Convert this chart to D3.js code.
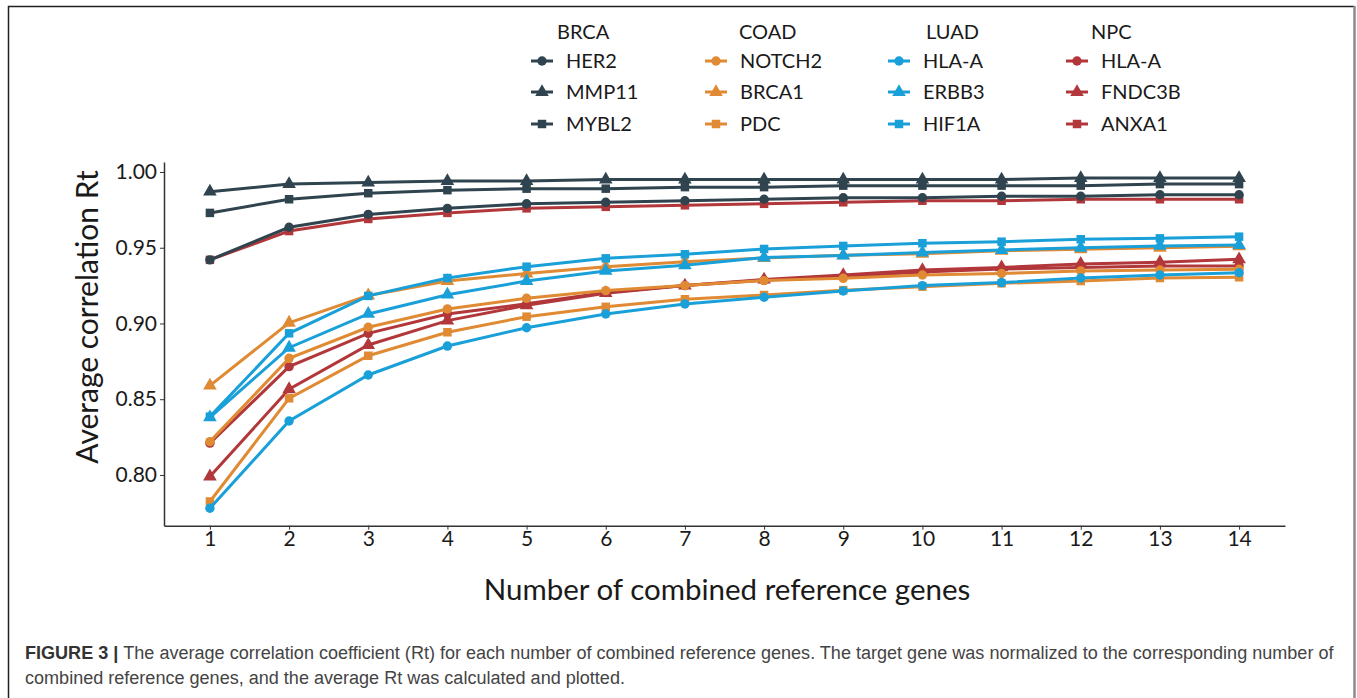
<!DOCTYPE html>
<html>
<head>
<meta charset="utf-8">
<script src="https://cdn.jsdelivr.net/npm/d3@7"></script>
<style>
  body { margin: 0; background: #fff; }
  svg { display: block; }
</style>
</head>
<body>
<div id="chart"></div>
<script>
// number of combined reference genes
var xValues = [1, 2, 3, 4, 5, 6, 7, 8, 9, 10, 11, 12, 13, 14];
var yTicks = [0.80, 0.85, 0.90, 0.95, 1.00];

var groups = ["BRCA", "COAD", "LUAD", "NPC"];
var genes = [
	["HER2", "MMP11", "MYBL2"],
	["NOTCH2", "BRCA1", "PDC"],
	["HLA-A", "ERBB3", "HIF1A"],
	["HLA-A", "FNDC3B", "ANXA1"]
];

// values
var brcaHER2  = [0.942, 0.9635, 0.972, 0.976, 0.979, 0.980, 0.981, 0.982, 0.983, 0.983, 0.984, 0.984, 0.985, 0.985];
var brcaMMP11 = [0.987, 0.992, 0.993, 0.994, 0.994, 0.995, 0.995, 0.995, 0.995, 0.995, 0.995, 0.996, 0.996, 0.996];
var brcaMYBL2 = [0.973, 0.982, 0.986, 0.988, 0.989, 0.989, 0.990, 0.990, 0.991, 0.991, 0.991, 0.991, 0.992, 0.992];

var coadNOTCH2 = [0.822, 0.877, 0.8975, 0.9096, 0.9166, 0.9217, 0.925, 0.9283, 0.9298, 0.932, 0.933, 0.9347, 0.9353, 0.9358];
var coadBRCA1  = [0.859, 0.9005, 0.9185, 0.928, 0.933, 0.9375, 0.9408, 0.9432, 0.945, 0.946, 0.948, 0.949, 0.950, 0.951];
var coadPDC    = [0.7825, 0.8506, 0.8787, 0.8942, 0.9045, 0.911, 0.916, 0.9188, 0.922, 0.9243, 0.9265, 0.928, 0.930, 0.9305];

var luadHLAA  = [0.778, 0.8356, 0.866, 0.8851, 0.8972, 0.9063, 0.9129, 0.9173, 0.9215, 0.925, 0.927, 0.930, 0.932, 0.9335];
var luadERBB3 = [0.838, 0.884, 0.9063, 0.919, 0.928, 0.9347, 0.9384, 0.9435, 0.9448, 0.9468, 0.9485, 0.950, 0.9512, 0.9518];
var luadHIF1A = [0.8385, 0.8935, 0.9182, 0.930, 0.9375, 0.943, 0.9457, 0.9492, 0.9512, 0.953, 0.954, 0.9556, 0.9562, 0.9573];

var npcHLAA   = [0.821, 0.8715, 0.8935, 0.9063, 0.913, 0.9205, 0.925, 0.9285, 0.931, 0.934, 0.936, 0.937, 0.938, 0.938];
var npcFNDC3B = [0.799, 0.8566, 0.8858, 0.9019, 0.912, 0.920, 0.925, 0.929, 0.932, 0.9353, 0.937, 0.9393, 0.9404, 0.9424];
var npcANXA1  = [0.942, 0.961, 0.969, 0.973, 0.976, 0.977, 0.978, 0.979, 0.980, 0.981, 0.981, 0.982, 0.982, 0.982];

var groupValues = [
	[brcaHER2, brcaMMP11, brcaMYBL2],
	[coadNOTCH2, coadBRCA1, coadPDC],
	[luadHLAA, luadERBB3, luadHIF1A],
	[npcHLAA, npcFNDC3B, npcANXA1]
];

var colors = ["#2f444e", "#e08a33", "#1aa0d9", "#b2373a"];
var shapes = [d3.symbolCircle, d3.symbolTriangle, d3.symbolSquare];
var shapeSizes = [70, 80, 72];

var width = 1357, height = 698;
var font = "Lato, 'Open Sans', sans-serif";

var svg = d3.select("#chart").append("svg")
	.attr("width", width)
	.attr("height", height);

// frame around the figure
svg.append("path")
	.attr("d", "M8.5," + height + "V6.5H1354.5")
	.attr("fill", "none")
	.attr("stroke", "#222")
	.attr("stroke-width", 1.5);
svg.append("line")
	.attr("x1", 1354.5).attr("x2", 1354.5)
	.attr("y1", 6).attr("y2", height)
	.attr("stroke", "#8a8a8a")
	.attr("stroke-width", 2.5);

var x = d3.scaleLinear().domain([0.42, 14.58]).range([164, 1285]);
var y = d3.scaleLinear().domain([0.7665, 1.0066]).range([525.7, 162]);

// axes
var xAxis = svg.append("g")
	.attr("transform", "translate(0," + y(0.7665) + ")")
	.call(d3.axisBottom(x).tickValues(xValues).tickSize(4).tickSizeOuter(0).tickPadding(2));

var yAxis = svg.append("g")
	.attr("transform", "translate(" + x(0.42) + ",0)")
	.call(d3.axisLeft(y).tickValues(yTicks).tickFormat(d3.format(".2f")).tickSize(4).tickSizeOuter(0).tickPadding(3));

[xAxis, yAxis].forEach(function (ax) {
	ax.select(".domain").attr("stroke", "#333").attr("stroke-width", 1.5);
	ax.selectAll(".tick line").attr("stroke", "#333");
	ax.selectAll(".tick text")
		.attr("fill", "#1a1a1a")
		.style("font-family", font)
		.style("font-size", "21px");
});
xAxis.selectAll(".tick text").attr("dy", "0.7em");

svg.append("text")
	.attr("x", 727)
	.attr("y", 600)
	.attr("text-anchor", "middle")
	.attr("fill", "#1a1a1a")
	.style("font-family", font)
	.style("font-size", "29.5px")
	.text("Number of combined reference genes");

svg.append("text")
	.attr("transform", "translate(98,317) rotate(-90)")
	.attr("text-anchor", "middle")
	.attr("fill", "#1a1a1a")
	.style("font-family", font)
	.style("font-size", "30px")
	.text("Average correlation Rt");

// series, NPC first so the others sit on top
var line = d3.line()
	.x(function (d, i) { return x(xValues[i]); })
	.y(function (d) { return y(d); });

var drawOrder = [3, 1, 2, 0];
drawOrder.forEach(function (g) {
	for (var s = 0; s < 3; s++) {
		var vals = groupValues[g][s];
		var series = svg.append("g");
		series.append("path")
			.datum(vals)
			.attr("d", line)
			.attr("fill", "none")
			.attr("stroke", colors[g])
			.attr("stroke-width", 3);
		series.selectAll("path.mark")
			.data(vals)
			.enter().append("path")
			.attr("class", "mark")
			.attr("transform", function (d, i) { return "translate(" + x(xValues[i]) + "," + y(d) + ")"; })
			.attr("d", d3.symbol().type(shapes[s]).size(shapeSizes[s]))
			.attr("fill", colors[g]);
	}
});

// legend
var legendX = [531, 705, 888, 1066];
var headerX = [557, 739, 926, 1091];
var rowY = [61, 92, 124];
groups.forEach(function (name, g) {
	svg.append("text")
		.attr("x", headerX[g])
		.attr("y", 39)
		.attr("fill", "#1a1a1a")
		.style("font-family", font)
		.style("font-size", "20px")
		.text(name);
	genes[g].forEach(function (gene, s) {
		var item = svg.append("g").attr("transform", "translate(" + legendX[g] + "," + rowY[s] + ")");
		item.append("line")
			.attr("x1", 0).attr("x2", 22)
			.attr("stroke", colors[g])
			.attr("stroke-width", 3);
		item.append("path")
			.attr("transform", "translate(11,0)")
			.attr("d", d3.symbol().type(shapes[s]).size(shapeSizes[s]))
			.attr("fill", colors[g]);
		item.append("text")
			.attr("x", 35)
			.attr("y", 7)
			.attr("fill", "#1a1a1a")
			.style("font-family", font)
			.style("font-size", "20px")
			.text(gene);
	});
});

// caption
var captionLines = [
	"The average correlation coefficient (Rt) for each number of combined reference genes. The target gene was normalized to the corresponding number of",
	"combined reference genes, and the average Rt was calculated and plotted."
];
var cap1 = svg.append("text")
	.attr("x", 25)
	.attr("y", 659)
	.attr("fill", "#444")
	.style("font-family", "'Liberation Sans', Arial, sans-serif")
	.style("font-size", "16.5px");
cap1.append("tspan").attr("font-weight", "bold").attr("fill", "#333").text("FIGURE 3 | ");
cap1.append("tspan").text(captionLines[0]);
var cap2 = svg.append("text")
	.attr("x", 25)
	.attr("y", 684)
	.attr("fill", "#444")
	.style("font-family", "'Liberation Sans', Arial, sans-serif")
	.style("font-size", "16.5px")
	.text(captionLines[1]);

// fit the first caption line to the width it has in the figure
var capW = cap1.node().getComputedTextLength();
var capSize = 16.5 * 1310 / capW;
cap1.style("font-size", capSize + "px");
cap2.style("font-size", capSize + "px");
</script>
</body>
</html>
